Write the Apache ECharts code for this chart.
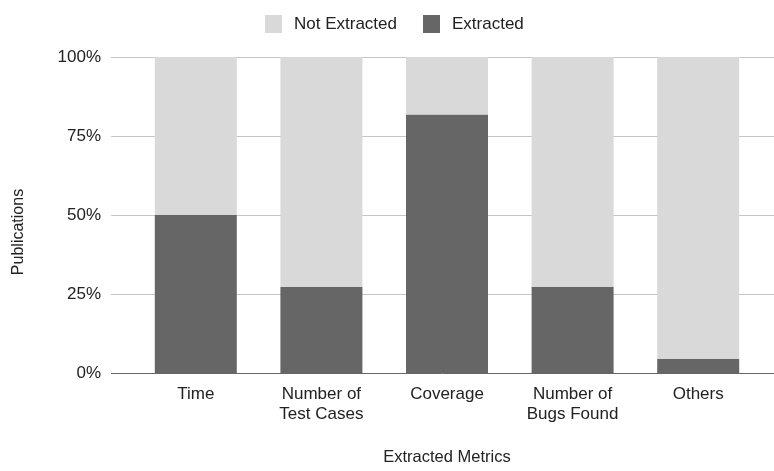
<!DOCTYPE html>
<html>
<head>
<meta charset="utf-8">
<script src="https://cdn.jsdelivr.net/npm/echarts@6/dist/echarts.min.js"></script>
<style>html,body{margin:0;padding:0;background:#fff}#c{width:774px;height:471px}</style>
</head>
<body>
<div id="c"></div>
<script>
var categories = ['Time', 'Number of\nTest Cases', 'Coverage', 'Number of\nBugs Found', 'Others'];
var extracted = [50, 27.3, 81.8, 27.3, 4.5];
var notExtracted = [50, 72.7, 18.2, 72.7, 95.5];
var yTicks = [0, 25, 50, 75, 100];
var seriesNames = ['Not Extracted', 'Extracted'];
var xTitle = 'Extracted Metrics';
var yTitle = 'Publications';

var FONT = 'Liberation Sans, Arial, sans-serif';
var chart = echarts.init(document.getElementById('c'), null, {renderer: 'canvas'});
var gTop = 57, gBottom = 98;
chart.setOption({
  animation: false,
  textStyle: {fontFamily: FONT},
  legend: {
    data: [seriesNames[0], seriesNames[1]],
    left: 260, top: 10,
    itemWidth: 17, itemHeight: 18, itemGap: 26,
    icon: 'rect',
    textStyle: {fontFamily: FONT, fontSize: 17, color: '#222', padding: [0, 0, 0, 7]}
  },
  grid: [
    {left: 111, right: 0, top: gTop, bottom: gBottom},
    {left: 133, right: 13, top: gTop, bottom: gBottom}
  ],
  xAxis: [
    {gridIndex: 0, type: 'value', show: false, min: 0, max: 1},
    {gridIndex: 1, type: 'category', data: categories,
     axisLine: {show: false}, axisTick: {show: false},
     axisLabel: {fontFamily: FONT, fontSize: 17, color: '#222', margin: 11, lineHeight: 20, interval: 0}}
  ],
  yAxis: [
    {gridIndex: 0, type: 'value', min: yTicks[0], max: yTicks[yTicks.length-1], interval: 25,
     axisLine: {show: false}, axisTick: {show: false},
     axisLabel: {fontFamily: FONT, fontSize: 17, color: '#222', margin: 10, formatter: '{value}%'},
     splitLine: {lineStyle: {color: ['#666', '#c6c6c6', '#c6c6c6', '#c6c6c6', '#c6c6c6'], width: 1}}},
    {gridIndex: 1, type: 'value', min: 0, max: 100, show: false, splitLine: {show: false}}
  ],
  series: [
    {name: seriesNames[1], type: 'bar', stack: 's', xAxisIndex: 1, yAxisIndex: 1,
     data: extracted, barWidth: 82, itemStyle: {color: '#666666'}},
    {name: seriesNames[0], type: 'bar', stack: 's', xAxisIndex: 1, yAxisIndex: 1,
     data: notExtracted, barWidth: 82, itemStyle: {color: '#d9d9d9'}}
  ],
  graphic: [
    {type: 'text', x: 447, y: 449,
     style: {text: xTitle, font: '16.5px ' + FONT, fill: '#222', textAlign: 'center', textVerticalAlign: 'top'}},
    {type: 'text', x: 11, y: 232, rotation: Math.PI / 2,
     style: {text: yTitle, font: '16px ' + FONT, fill: '#222', textAlign: 'center', textVerticalAlign: 'top'}}
  ]
});
</script>
</body>
</html>
